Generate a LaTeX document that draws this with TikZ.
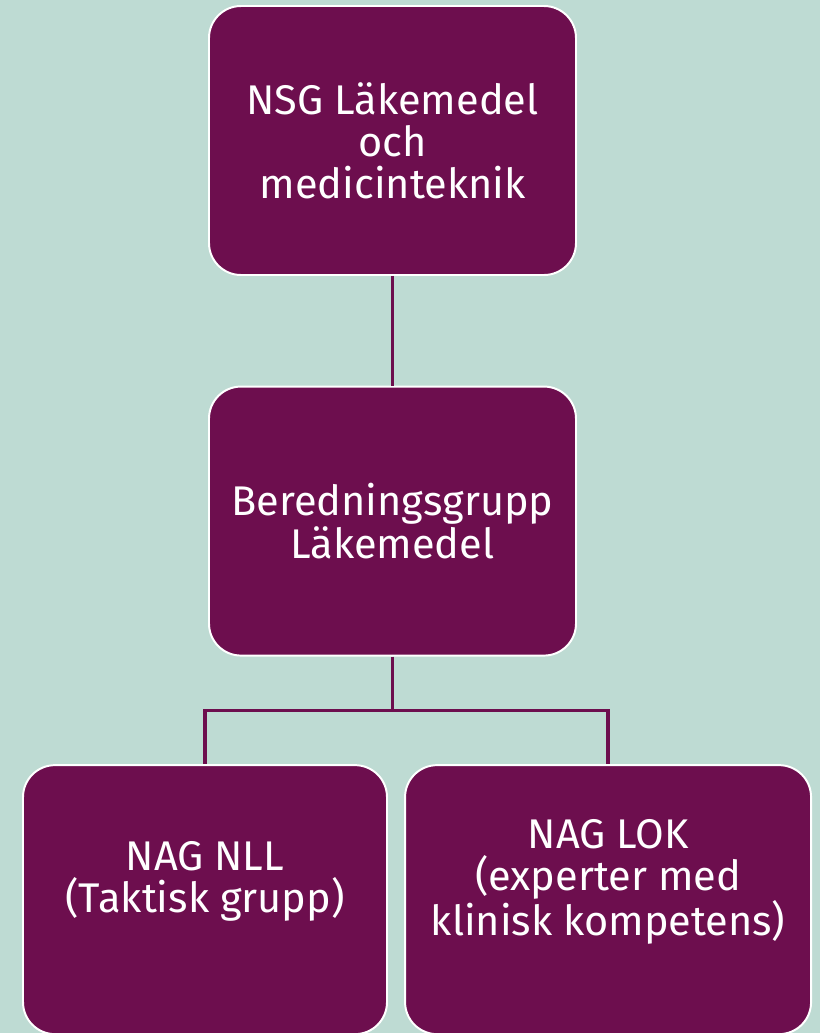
\documentclass[tikz,border=0pt]{standalone}
\usepackage{fontspec}
\setmainfont{Fira Sans}
\usepackage{tikz}
\definecolor{plum}{RGB}{109, 14, 78}
\definecolor{mintbg}{RGB}{190, 219, 211}
\usetikzlibrary{positioning}

\begin{document}
\begin{tikzpicture}[
    node distance=2.74cm,
    box/.style={rectangle, rounded corners=0.8cm, fill=plum, draw=white, line width=1.4pt,
                minimum width=9.175cm, minimum height=6.725cm, align=center,
                text=white, font=\fontsize{29.5}{30}\selectfont},
    boxtext/.style={align=center, text=white, font=\fontsize{29.5}{30}\selectfont},
    link/.style={draw=plum, line width=2.4pt}
]
    % Background
    \fill[mintbg] (-9.8125,3.5125) rectangle (10.6875,-22.3125);
    \useasboundingbox (-9.8125,3.5125) rectangle (10.6875,-22.3125);
    \clip (-9.8125,3.5125) rectangle (10.6875,-22.3125);

    % Top
    \node[box] (nsg) at (0,0) {NSG Läkemedel\\och\\medicinteknik};

    % Middle
    \node[box, below=of nsg] (beredning) {Beredningsgrupp\\Läkemedel};

    % Bottom row
    \node[box, minimum width=9.1cm, below left=2.69cm and 0.1125cm of beredning.south] (nll) {};
    \node[box, minimum width=10.15cm, below right=2.69cm and 0.29cm of beredning.south] (lok) {};
    \node[boxtext] (nlltext) at ([yshift=0.45cm]nll.center) {NAG NLL\\(Taktisk grupp)};
    \node[boxtext] (loktext) at ([yshift=0.45cm]lok.center) {NAG LOK\\(experter med\\klinisk kompetens)};

    % Links
    \draw[link] (nsg) -- (beredning);
    \coordinate (split) at ([yshift=-1.35cm]beredning.south);
    \draw[link] (beredning.south) -- (split) -| (nll.north);
    \draw[link] (split) -| (lok.north);
\end{tikzpicture}
\end{document}
